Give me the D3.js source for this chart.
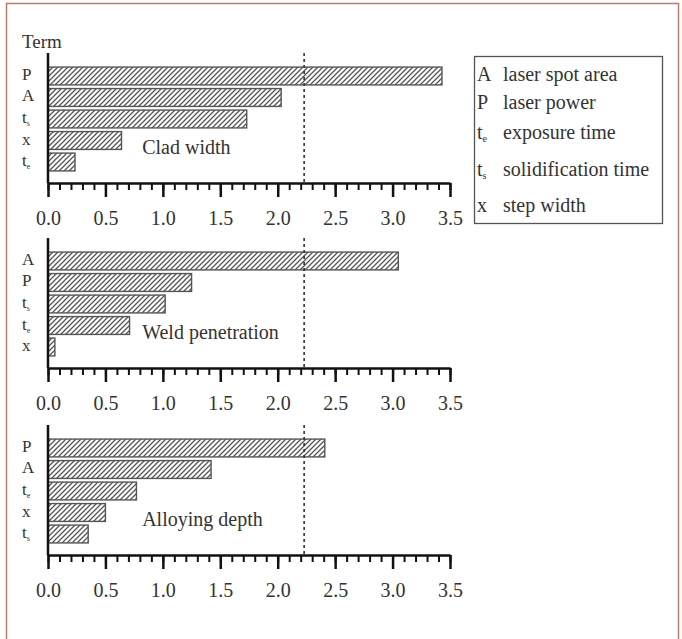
<!DOCTYPE html>
<html>
<head>
<meta charset="utf-8">
<script src="https://cdn.jsdelivr.net/npm/d3@7"></script>
<style>
  body { margin: 0; background: #fff; }
  svg text { font-family: "Liberation Serif", "DejaVu Serif", serif; fill: #333; }
</style>
</head>
<body>
<svg id="chart" width="682" height="639"></svg>
<script>
// data
const panelNames = ["Clad width", "Weld penetration", "Alloying depth"];
const cladTerms = ["P", "A", "ts", "x", "te"];
const cladValues = [3.43, 2.03, 1.73, 0.64, 0.235];
const weldTerms = ["A", "P", "ts", "te", "x"];
const weldValues = [3.05, 1.25, 1.02, 0.71, 0.06];
const alloyTerms = ["P", "A", "te", "x", "ts"];
const alloyValues = [2.41, 1.42, 0.77, 0.50, 0.35];
const majorTicks = [0, 0.5, 1.0, 1.5, 2.0, 2.5, 3.0, 3.5];
const threshold = 2.23;
const legendKeys = ["A", "P", "te", "ts", "x"];
const legendLabels = ["laser spot area", "laser power", "exposure time", "solidification time", "step width"];

let svg = d3.select("#chart");

// outer frame
svg.append("rect")
  .attr("x", 6.5).attr("y", 3.5)
  .attr("width", 672).attr("height", 650)
  .attr("fill", "none")
  .attr("stroke", "#b4806c")
  .attr("stroke-width", 1.5);

// hatch
let defs = svg.append("defs");
defs.append("pattern")
  .attr("id", "hatch")
  .attr("patternUnits", "userSpaceOnUse")
  .attr("width", 5).attr("height", 5)
  .append("path")
    .attr("d", "M0,5 L5,0 M-1.25,1.25 L1.25,-1.25 M3.75,6.25 L6.25,3.75")
    .attr("stroke", "#555")
    .attr("stroke-width", 1.3);

let x = d3.scaleLinear().domain([0, 3.5]).range([48, 450]);
let minorTicks = d3.range(0, 36).map(i => i / 10);

// put a term label like "ts" into a text node with subscript
let writeTerm = (sel, t, sub) => {
  sel.append("tspan").text(t[0]);
  if (t.length > 1) {
    sel.append("tspan")
      .attr("font-size", sub)
      .attr("dy", 3)
      .text(t[1]);
  }
};

svg.append("text")
  .attr("x", 22).attr("y", 48)
  .attr("font-size", 19)
  .text("Term");

let panels = [
  {name: panelNames[0], terms: cladTerms, values: cladValues, top: 53},
  {name: panelNames[1], terms: weldTerms, values: weldValues, top: 238},
  {name: panelNames[2], terms: alloyTerms, values: alloyValues, top: 425}
];

panels.forEach(p => {
  let y0 = p.top, y1 = p.top + 130;
  let g = svg.append("g");

  let y = d3.scaleBand()
    .domain(p.terms)
    .range([y0 + 13, y1 - 11])
    .paddingInner(0.17)
    .paddingOuter(0.05);

  g.selectAll("rect.bar")
    .data(p.terms.map((t, i) => ({term: t, value: p.values[i]})))
    .enter()
    .append("rect")
      .attr("class", "bar")
      .attr("x", x(0))
      .attr("y", d => y(d.term))
      .attr("width", d => x(d.value) - x(0))
      .attr("height", y.bandwidth())
      .attr("fill", "url(#hatch)")
      .attr("stroke", "#555")
      .attr("stroke-width", 1.4);

  // term labels
  p.terms.forEach(t => {
    let tx = g.append("text")
      .attr("x", 22)
      .attr("y", y(t) + y.bandwidth() / 2 + 4)
      .attr("font-size", 17);
    writeTerm(tx, t, 8);
  });

  // threshold line
  g.append("line")
    .attr("x1", x(threshold)).attr("x2", x(threshold))
    .attr("y1", y0).attr("y2", y1)
    .attr("stroke", "#333")
    .attr("stroke-width", 1.6)
    .attr("stroke-dasharray", "3,3");

  // minor ticks
  g.append("g")
    .attr("transform", "translate(0," + y1 + ")")
    .call(d3.axisBottom(x).tickValues(minorTicks).tickSize(7).tickSizeOuter(0).tickFormat(""))
    .call(a => a.select(".domain").remove())
    .call(a => a.selectAll("line").attr("stroke", "#111").attr("stroke-width", 2));

  // major ticks + labels
  g.append("g")
    .attr("transform", "translate(0," + y1 + ")")
    .call(d3.axisBottom(x).tickValues(majorTicks).tickSize(14).tickSizeOuter(0).tickPadding(14).tickFormat(d3.format(".1f")))
    .call(a => a.select(".domain").attr("stroke", "#111").attr("stroke-width", 2.5))
    .call(a => a.selectAll("line").attr("stroke", "#111").attr("stroke-width", 2.5))
    .call(a => a.selectAll("text")
      .attr("font-size", 20)
      .attr("font-family", "Liberation Serif, serif")
      .attr("fill", "#444"));

  // vertical axis line
  g.append("line")
    .attr("x1", x(0)).attr("x2", x(0))
    .attr("y1", y0).attr("y2", y1)
    .attr("stroke", "#111")
    .attr("stroke-width", 2.5);

  g.append("text")
    .attr("x", x(0.82))
    .attr("y", y1 - 29)
    .attr("font-size", 20)
    .text(p.name);
});

// legend
let lg = svg.append("g");
lg.append("rect")
  .attr("x", 474.5).attr("y", 56.5)
  .attr("width", 188).attr("height", 167)
  .attr("fill", "none")
  .attr("stroke", "#555")
  .attr("stroke-width", 1.3);

let rowY = [81, 109, 139, 176, 212];
legendKeys.forEach((k, i) => {
  let kt = lg.append("text")
    .attr("x", 477)
    .attr("y", rowY[i])
    .attr("font-size", 20);
  writeTerm(kt, k, 10);
  lg.append("text")
    .attr("x", 503)
    .attr("y", rowY[i])
    .attr("font-size", 20)
    .text(legendLabels[i]);
});
</script>
</body>
</html>
